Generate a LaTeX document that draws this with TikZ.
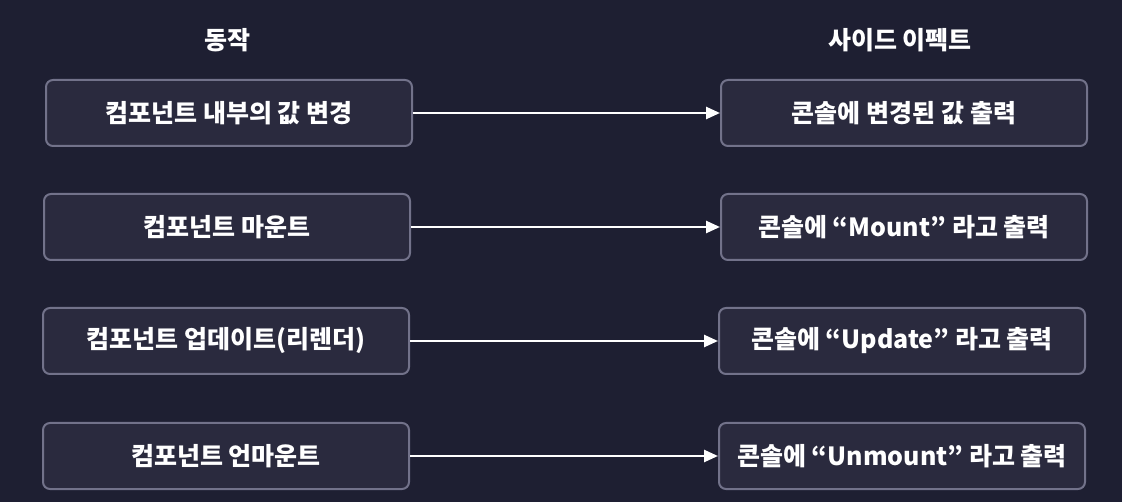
\documentclass[tikz,border=0pt]{standalone}
\usepackage{fontspec}
\setmainfont{Noto Sans CJK KR}
\usetikzlibrary{arrows.meta}
\definecolor{bgc}{HTML}{1E1F32}
\definecolor{boxfill}{HTML}{2A2A3E}
\definecolor{boxline}{HTML}{72728A}
\begin{document}
\begin{tikzpicture}[x=1pt,y=-1pt,
  box/.style={draw=boxline, fill=boxfill, line width=2pt, rounded corners=7pt,
    minimum width=366pt, minimum height=66pt, inner sep=0pt, text=white,
    font=\fontsize{25}{28}\selectfont\bfseries},
  head/.style={text=white, font=\fontsize{25}{28}\selectfont\bfseries},
  arr/.style={draw=white, line width=2.5pt, -{Triangle[length=14pt,width=12pt]}}]
\fill[bgc] (0,0) rectangle (1122,502);
\useasboundingbox (0,0) rectangle (1122,502);
\node[head] (h1) at (227,40) {동작};
\node[head] (h2) at (900,40) {사이드 이펙트};
\node[box] (a1) at (229,113) {컴포넌트 내부의 값 변경};
\node[box] (a2) at (227,227) {컴포넌트 마운트};
\node[box] (a3) at (226,341) {컴포넌트 업데이트(리렌더)};
\node[box] (a4) at (226,456) {컴포넌트 언마운트};
\node[box] (b1) at (904,113) {콘솔에 변경된 값 출력};
\node[box] (b2) at (904,227) {콘솔에 “Mount” 라고 출력};
\node[box] (b3) at (902,341) {콘솔에 “Update” 라고 출력};
\node[box] (b4) at (902,456) {콘솔에 “Unmount” 라고 출력};
\draw[arr] (a1) -- (b1);
\draw[arr] (a2) -- (b2);
\draw[arr] (a3) -- (b3);
\draw[arr] (a4) -- (b4);
\end{tikzpicture}
\end{document}
